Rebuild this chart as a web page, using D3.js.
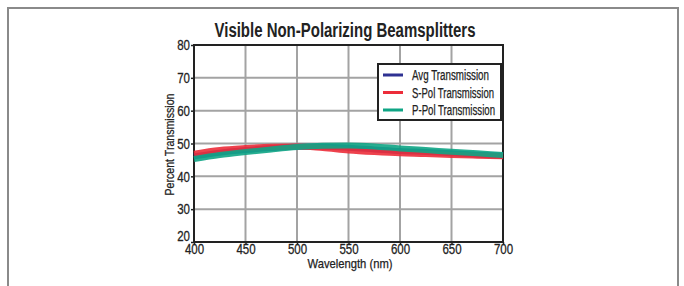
<!DOCTYPE html>
<html>
<head>
<meta charset="utf-8">
<script src="https://cdn.jsdelivr.net/npm/d3@7"></script>
<style>
  body { margin: 0; background: #fff; }
  svg { display: block; }
  text { font-family: "Liberation Sans", Arial, sans-serif; fill: #222; }
</style>
</head>
<body>
<svg id="chart" width="684" height="286"></svg>
<script>
// wavelength samples (nm)
var wavelengths = [400, 425, 450, 475, 500, 525, 550, 575, 600, 625, 650, 675, 700];
// percent transmission
var avgValues = [46.1, 47.2, 48.0, 48.6, 49.0, 49.0, 48.7, 48.2, 47.7, 47.4, 47.0, 46.6, 46.3];
var sPolValues = [46.9, 48.0, 48.6, 49.0, 49.1, 48.6, 47.9, 47.4, 47.0, 46.8, 46.5, 46.3, 46.1];
var pPolValues = [45.3, 46.5, 47.4, 48.2, 48.9, 49.3, 49.4, 49.1, 48.5, 48.0, 47.5, 47.0, 46.5];
var seriesNames = ["Avg Transmission", "S-Pol Transmission", "P-Pol Transmission"];
var xTicks = [400, 450, 500, 550, 600, 650, 700];
var yTicks = [20, 30, 40, 50, 60, 70, 80];

var colorAvg = "#2e3192";
var colorS = "#ec2d3a";
var colorP = "#0fa585";

const svg = d3.select('svg#chart');

// the chart font is a narrow one, so squeeze text to its measured width
function squeeze(sel, w) {
	sel.attr('textLength', w).attr('lengthAdjust', 'spacingAndGlyphs');
}

// outer frame (runs off the bottom of the picture)
svg.append('rect')
	.attr('x', 8).attr('y', 8)
	.attr('width', 670).attr('height', 300)
	.attr('fill', 'none')
	.attr('stroke', '#8a8a8a')
	.attr('stroke-width', 2);

const plotL = 194, plotR = 503, plotT = 45, plotB = 242;

const x = d3.scaleLinear().domain([400, 700]).range([plotL, plotR]);
const y = d3.scaleLinear().domain([20, 80]).range([plotB, plotT]);

// grid
svg.append('g')
	.selectAll('line')
	.data(xTicks.slice(1, -1))
	.enter().append('line')
	.attr('x1', d => x(d)).attr('x2', d => x(d))
	.attr('y1', plotT).attr('y2', plotB)
	.attr('stroke', '#a3a3a3').attr('stroke-width', 2);

svg.append('g')
	.selectAll('line')
	.data(yTicks.slice(1, -1))
	.enter().append('line')
	.attr('x1', plotL).attr('x2', plotR)
	.attr('y1', d => y(d)).attr('y2', d => y(d))
	.attr('stroke', '#a3a3a3').attr('stroke-width', 2);

// axes
const xAxis = svg.append('g')
	.attr('transform', `translate(0,${plotB})`)
	.call(d3.axisBottom(x).tickValues(xTicks).tickSize(3).tickPadding(0));
const yAxis = svg.append('g')
	.attr('transform', `translate(${plotL},0)`)
	.call(d3.axisLeft(y).tickValues(yTicks).tickSize(3).tickPadding(1));

[xAxis, yAxis].forEach(a => {
	a.select('.domain').remove();
	a.selectAll('line').attr('stroke', '#222').attr('stroke-width', 1.5);
	a.selectAll('text')
		.style('font-family', '"Liberation Sans", Arial, sans-serif')
		.style('font-size', '15px')
		.attr('fill', '#222')
		.attr('stroke', '#222')
		.attr('stroke-width', 0.3)
		.each(function (d) {
			squeeze(d3.select(this), String(d).length * 6.4);
		});
});
xAxis.selectAll('text').attr('y', 1);
// the bottom y label sits a little high so it clears "400"
yAxis.selectAll('text').filter(d => d === 20).attr('dy', '-0.12em');

// plot frame
svg.append('rect')
	.attr('x', plotL).attr('y', plotT)
	.attr('width', plotR - plotL).attr('height', plotB - plotT)
	.attr('fill', 'none')
	.attr('stroke', '#222')
	.attr('stroke-width', 2);

// curves
const line = d3.line()
	.x(d => x(d[0]))
	.y(d => y(d[1]))
	.curve(d3.curveMonotoneX);

const series = [
	{ name: seriesNames[0], values: avgValues, c: colorAvg, w: 77 },
	{ name: seriesNames[1], values: sPolValues, c: colorS, w: 82 },
	{ name: seriesNames[2], values: pPolValues, c: colorP, w: 83 }
];

svg.append('g')
	.selectAll('path')
	.data(series)
	.enter().append('path')
	.attr('d', d => line(wavelengths.map((w, i) => [w, d.values[i]])))
	.attr('fill', 'none')
	.attr('stroke', d => d.c)
	.attr('stroke-width', 6)
	.attr('stroke-opacity', 0.9);

// legend
const lg = svg.append('g').attr('transform', 'translate(378,64)');
lg.append('rect')
	.attr('width', 123).attr('height', 56)
	.attr('fill', '#fff')
	.attr('stroke', '#222')
	.attr('stroke-width', 2);

const item = lg.selectAll('g.item')
	.data(series)
	.enter().append('g')
	.attr('transform', (d, i) => `translate(0,${11 + i * 17.5})`);
item.append('line')
	.attr('x1', 5).attr('x2', 25)
	.attr('stroke', d => d.c)
	.attr('stroke-width', 3);
item.append('text')
	.attr('x', 34).attr('y', 5)
	.style('font-size', '14px')
	.attr('stroke', '#222')
	.attr('stroke-width', 0.25)
	.text(d => d.name)
	.each(function (d) { squeeze(d3.select(this), d.w); });

// title and axis labels
svg.append('text')
	.attr('x', 345).attr('y', 37)
	.attr('text-anchor', 'middle')
	.style('font-size', '20px')
	.style('font-weight', 'bold')
	.call(squeeze, 261)
	.text('Visible Non-Polarizing Beamsplitters');

svg.append('text')
	.attr('x', 350).attr('y', 268)
	.attr('text-anchor', 'middle')
	.style('font-size', '13px')
	.attr('stroke', '#222')
	.attr('stroke-width', 0.25)
	.call(squeeze, 85)
	.text('Wavelength (nm)');

svg.append('text')
	.attr('transform', `translate(174,${(plotT + plotB) / 2 + 1}) rotate(-90)`)
	.attr('text-anchor', 'middle')
	.style('font-size', '13px')
	.attr('stroke', '#222')
	.attr('stroke-width', 0.25)
	.call(squeeze, 102)
	.text('Percent Transmission');
</script>
</body>
</html>
